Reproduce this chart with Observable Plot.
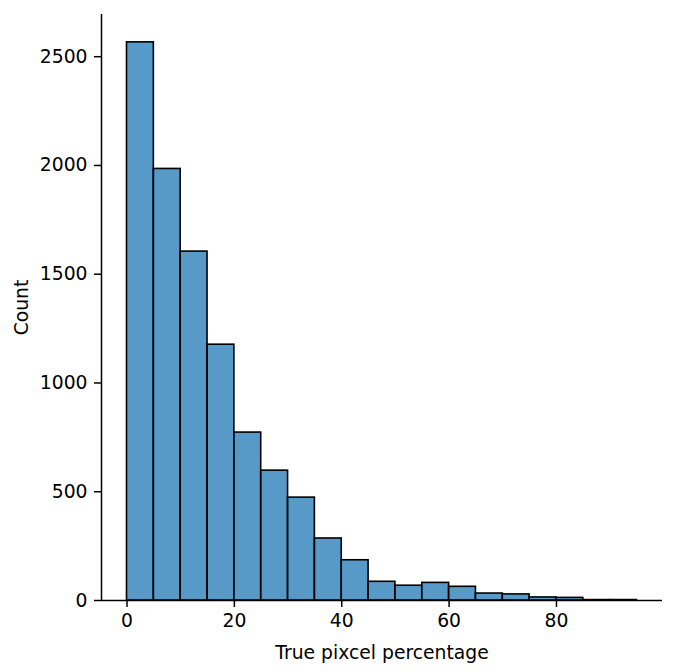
<!DOCTYPE html>
<html>
<head>
<meta charset="utf-8">
<script src="https://cdn.jsdelivr.net/npm/d3@7"></script>
<script src="https://cdn.jsdelivr.net/npm/@observablehq/plot@0.6"></script>
<style>
  html, body { margin: 0; padding: 0; background: #fff; }
  svg { display: block; }
</style>
</head>
<body>
<div id="chart"></div>
<script>
const binStarts = [0, 5, 10, 15, 20, 25, 30, 35, 40, 45, 50, 55, 60, 65, 70, 75, 80, 85, 90];
const binWidth = 5;
const counts = [2566, 1984, 1604, 1176, 772, 597, 473, 285, 185, 86, 68, 81, 63, 32, 28, 14, 12, 2, 2];
const xTicks = [0, 20, 40, 60, 80];
const yTicks = [0, 500, 1000, 1500, 2000, 2500];

const bins = binStarts.map((s, i) => ({x1: s, x2: s + binWidth, count: counts[i]}));
const xDomain = [-4.75, 99.75];
const yDomain = [0, 2694];

const plot = Plot.plot({
  width: 676,
  height: 672,
  marginLeft: 101,
  marginRight: 14,
  marginTop: 14,
  marginBottom: 72,
  style: {fontFamily: "DejaVu Sans", fontSize: "18.75px", color: "#000", background: "#fff"},
  x: {domain: xDomain},
  y: {domain: yDomain},
  marks: [
    Plot.rectY(bins, {x1: "x1", x2: "x2", y: "count", fill: "#1f77b4", fillOpacity: 0.75, stroke: "#000", strokeWidth: 1.6}),
    Plot.ruleX([xDomain[0]], {stroke: "#000", strokeWidth: 1.5}),
    Plot.ruleY([0], {stroke: "#000", strokeWidth: 1.5}),
    Plot.axisX({ticks: xTicks, tickFormat: d => String(d), tickSize: 7, tickPadding: 6, strokeWidth: 1.5, fontSize: 18.75, label: "True pixcel percentage", labelAnchor: "center", labelArrow: "none", labelOffset: 58}),
    Plot.axisY({ticks: yTicks, tickFormat: d => String(d), tickSize: 7, tickPadding: 7, strokeWidth: 1.5, fontSize: 18.75, label: "Count", labelAnchor: "center", labelArrow: "none", labelOffset: 87})
  ]
});
document.getElementById("chart").appendChild(plot);
</script>
</body>
</html>
